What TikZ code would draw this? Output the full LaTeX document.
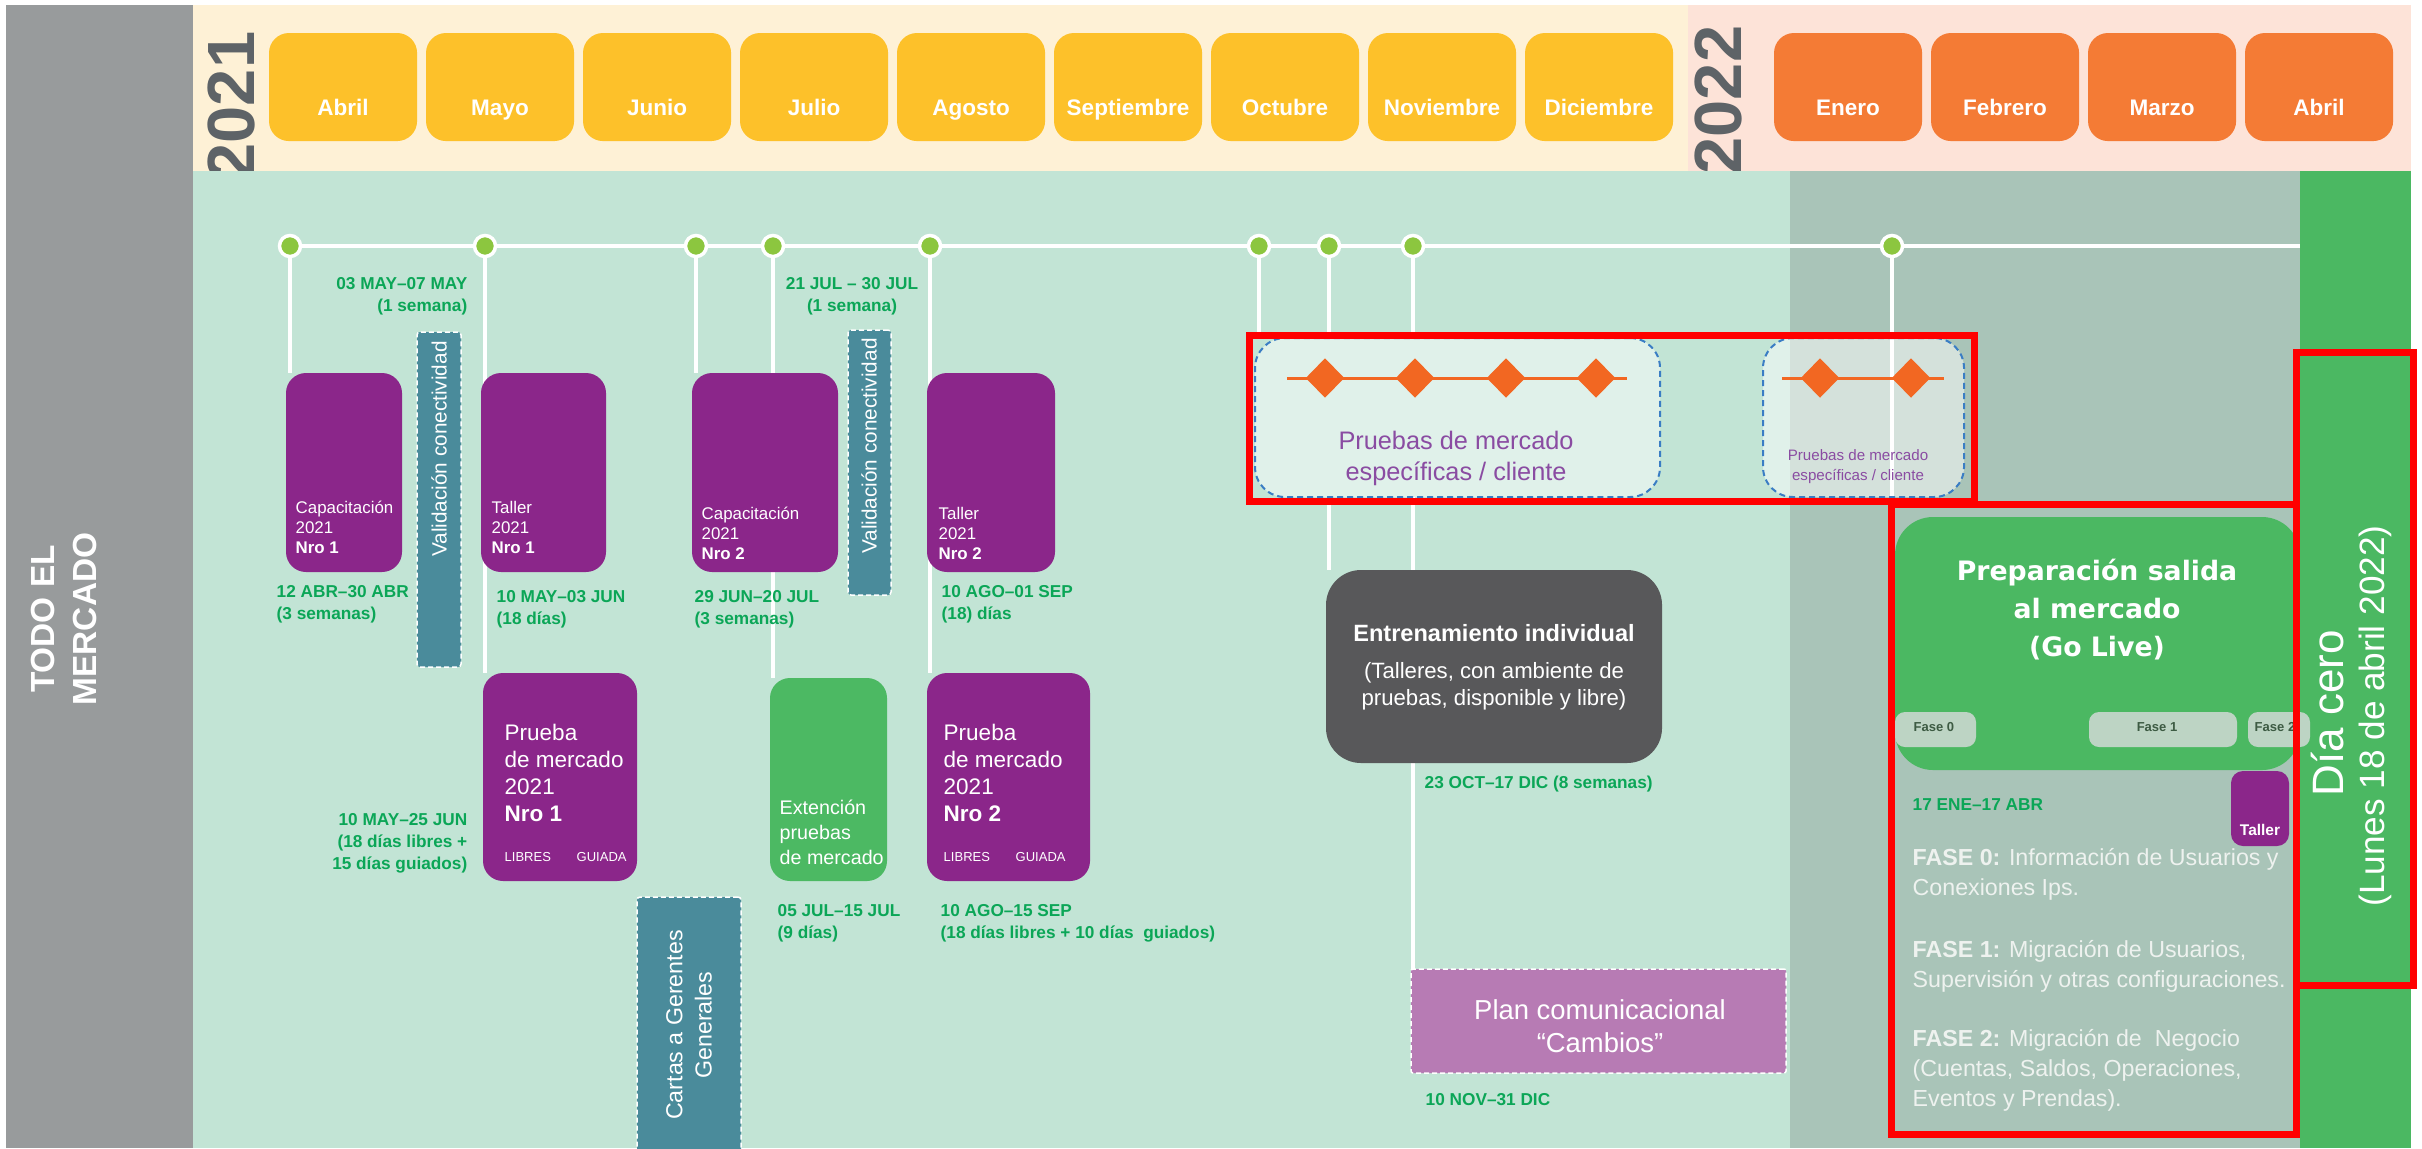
\documentclass[tikz,border=0pt]{standalone}
\usepackage{fontspec}
\setmainfont{Liberation Sans}
\newfontfamily\dvfont{DejaVu Sans}
\usetikzlibrary{shapes.geometric}
\newcommand\fsz[2]{\fontsize{#1pt}{#2pt}\selectfont}
\newcommand\bnode[6]{%
  \pgfmathsetmacro\bw{(#5-#3)*0.01}\pgfmathsetmacro\bh{(#6-#4)*0.01}%
  \node[#2, anchor=north west, minimum width=\bw cm, minimum height=\bh cm] (#1) at (#3,#4) {};}
\definecolor{cgray}{HTML}{989B9C}
\definecolor{ccream}{HTML}{FEF1D6}
\definecolor{cpink}{HTML}{FDE3D8}
\definecolor{cbody}{HTML}{C2E4D5}
\definecolor{cbody2}{HTML}{A9C4B8}
\definecolor{cgreencol}{HTML}{4BB862}
\definecolor{cyel}{HTML}{FDC12A}
\definecolor{corg}{HTML}{F47B35}
\definecolor{cyear}{HTML}{5E6367}
\definecolor{cdot}{HTML}{8CC63F}
\definecolor{cpur}{HTML}{8B268A}
\definecolor{cteal}{HTML}{4A8B9B}
\definecolor{cdate}{HTML}{0BA657}
\definecolor{cext}{HTML}{4CB963}
\definecolor{cdark}{HTML}{58585A}
\definecolor{cplan}{HTML}{B77BB4}
\definecolor{cdia}{HTML}{F26722}
\definecolor{cblue}{HTML}{3A7DC4}
\definecolor{cptxt}{HTML}{8A4CA2}
\definecolor{cfase}{HTML}{BDD4C4}
\definecolor{cfasetxt}{HTML}{3D5B43}
\definecolor{cfasew}{HTML}{EEF2EF}
\pgfdeclarelayer{back}\pgfdeclarelayer{lines}\pgfdeclarelayer{top}
\pgfsetlayers{back,lines,main,top}
\begin{document}
\begin{tikzpicture}[x=0.01cm,y=-0.01cm,
  box/.style={inner sep=0, outer sep=0, rounded corners=0.2cm},
  month/.style={box, rounded corners=0.2cm, minimum width=1.48cm, minimum height=1.08cm},
  mtext/.style={text=white, font=\bfseries\fsz{6.4}{7.5}, inner sep=0, anchor=base},
  year/.style={rotate=90, text=cyear, font=\bfseries\fsz{19}{22}, inner sep=0},
  pbox/.style={box, fill=cpur},
  gbox/.style={box, fill=cext},
  vbox/.style={box, rounded corners=0.03cm, fill=cteal, draw=white, line width=0.015cm, dash pattern=on 0.05cm off 0.03cm},
  dashbox/.style={box, rounded corners=0.3cm, fill=white, fill opacity=0.5, draw=cblue, draw opacity=1, line width=0.02cm, dash pattern=on 0.06cm off 0.04cm},
  dbox/.style={box, rounded corners=0.35cm, fill=cdark},
  planbox/.style={box, rounded corners=0.02cm, fill=cplan, draw=white, line width=0.015cm, dash pattern=on 0.05cm off 0.03cm},
  prepbox/.style={box, rounded corners=0.38cm, fill=cgreencol},
  fasebox/.style={box, rounded corners=0.1cm, fill=cfase},
  tbox/.style={box, rounded corners=0.12cm, fill=cpur},
  dot/.style={circle, fill=cdot, draw=white, line width=0.035cm, minimum size=0.21cm, inner sep=0},
  tl/.style={draw=white, line width=0.035cm},
  dline/.style={draw=cdia, line width=0.03cm},
  dia/.style={diamond, fill=cdia, inner sep=0, minimum width=0.39cm, minimum height=0.40cm},
  date/.style={text=cdate, font=\bfseries\fsz{4.9}{6.3}, inner sep=0, align=left},
  wtxt/.style={text=white, inner sep=0, align=left},
  redbox/.style={draw=red, line width=0.07cm}]
\useasboundingbox (0,0) rectangle (2422,1148);
\begin{pgfonlayer}{back}
  \fill[white] (0,0) rectangle (2422,1148);
  \fill[cgray] (6,5) rectangle (193,1148);
  \fill[ccream] (193,5) rectangle (1688,171);
  \fill[cpink] (1688,5) rectangle (2411,171);
  \node[year, anchor=base east] (y21) at (254,31) {2021};
  \node[year, anchor=base east] (y22) at (1741,25) {2022};
  \fill[cbody] (193,171) rectangle (1790,1148);
  \fill[cbody2] (1790,171) rectangle (2300,1148);
  \fill[cgreencol] (2300,171) rectangle (2411,1148);
\end{pgfonlayer}
% months
\foreach \m [count=\i from 0] in {Abril,Mayo,Junio,Julio,Agosto,Septiembre,Octubre,Noviembre,Diciembre}{
  \pgfmathsetmacro\mx{269+157*\i}\pgfmathsetmacro\mc{\mx+74}
  \node[month, fill=cyel, anchor=north west] (my\i) at (\mx,33) {};
  \node[mtext] (myt\i) at (\mc,115) {\m};
}
\foreach \m [count=\i from 0] in {Enero,Febrero,Marzo,Abril}{
  \pgfmathsetmacro\mx{1774+157*\i}\pgfmathsetmacro\mc{\mx+74}
  \node[month, fill=corg, anchor=north west] (mo\i) at (\mx,33) {};
  \node[mtext] (mot\i) at (\mc,115) {\m};
}
\node[rotate=90, text=white, font=\bfseries\fsz{9.5}{12}, align=center, inner sep=0] (todo) at (64,619) {TODO EL\\MERCADO};
% boxes
\bnode{cap1}{pbox}{286}{373}{402}{572}
\bnode{val1}{vbox}{417}{332}{461}{667}
\bnode{tal1}{pbox}{481}{373}{606}{572}
\bnode{cap2}{pbox}{692}{373}{838}{572}
\bnode{val2}{vbox}{848}{330}{891}{595}
\bnode{tal2}{pbox}{927}{373}{1055}{572}
\bnode{pr1}{pbox}{483}{673}{637}{881}
\bnode{ext}{gbox}{770}{678}{887}{881}
\bnode{pr2}{pbox}{927}{673}{1090}{881}
\bnode{cartas}{vbox}{637}{897}{741}{1170}
\bnode{pm1}{dashbox}{1255}{338}{1660}{497}
\bnode{pm2}{dashbox}{1763}{338}{1964}{497}
\bnode{entr}{dbox}{1326}{570}{1662}{763}
\bnode{plan}{planbox}{1411}{969}{1786}{1073}
\bnode{prep}{prepbox}{1895}{517}{2300}{770}
\bnode{fa0}{fasebox}{1895}{712}{1976}{747}
\bnode{fa1}{fasebox}{2089}{712}{2237}{747}
\bnode{fa2}{fasebox}{2248}{712}{2310}{747}
\bnode{tal3}{tbox}{2231}{771}{2289}{846}
% timeline dots
\foreach \x [count=\i] in {290,485,696,773,930,1259,1329,1413,1892}
  \node[dot] (d\i) at (\x,246) {};
\coordinate (tlend) at (2300,246);
\begin{pgfonlayer}{lines}
  \draw[tl, line width=0.045cm] (d1) -- (tlend);
  \draw[tl] (d1) -- (d1 |- cap1.north);
  \draw[tl] (d2) -- (d2 |- pr1.north);
  \draw[tl] (d3) -- (d3 |- cap2.north);
  \draw[tl] (d4) -- (d4 |- ext.north);
  \draw[tl] (d5) -- (d5 |- pr2.north);
  \draw[tl] (d6) -- (d6 |- pm1.north);
  \draw[tl] (d7) -- (d7 |- pm1.north) (d7 |- pm1.south) -- (d7 |- entr.north);
  \draw[tl] (d8) -- (d8 |- pm1.north) (d8 |- pm1.south) -- (d8 |- plan.north);
  \draw[tl] (d9) -- (d9 |- prep.north);
\end{pgfonlayer}
% diamonds
\coordinate (pla) at (1287,378); \coordinate (plb) at (1627,378);
\draw[dline] (pla) -- (plb);
\foreach \x [count=\i] in {1325,1415,1506,1596} \node[dia] (da\i) at (\x,378) {};
\coordinate (pqa) at (1782,378); \coordinate (pqb) at (1944,378);
\draw[dline] (pqa) -- (pqb);
\foreach \x [count=\i] in {1820,1911} \node[dia] (db\i) at (\x,378) {};
% texts in boxes
\node[wtxt, anchor=west, font=\fsz{4.8}{5.7}] (cap1t) at (295,527) {Capacitación\\2021\\\textbf{Nro 1}};
\node[wtxt, anchor=west, font=\fsz{4.8}{5.7}] (tal1t) at (491,527) {Taller\\2021\\\textbf{Nro 1}};
\node[wtxt, anchor=west, font=\fsz{4.8}{5.7}] (cap2t) at (701,533) {Capacitación\\2021\\\textbf{Nro 2}};
\node[wtxt, anchor=west, font=\fsz{4.8}{5.7}] (tal2t) at (938,533) {Taller\\2021\\\textbf{Nro 2}};
\node[wtxt, rotate=90, font=\fsz{5.9}{7}] (val1t) at (439,449) {Validación conectividad};
\node[wtxt, rotate=90, font=\fsz{5.9}{7}] (val2t) at (869,446) {Validación conectividad};
\node[wtxt, anchor=west, font=\fsz{6.4}{7.7}] (pr1t) at (504,773) {Prueba\\de mercado\\2021\\\textbf{Nro 1}};
\node[wtxt, anchor=west, font=\fsz{6.4}{7.7}] (pr2t) at (943,773) {Prueba\\de mercado\\2021\\\textbf{Nro 2}};
\node[wtxt, anchor=west, font=\fsz{3.7}{4.5}] (pr1l) at (504,857) {LIBRES};
\node[wtxt, anchor=west, font=\fsz{3.7}{4.5}] (pr1g) at (576,857) {GUIADA};
\node[wtxt, anchor=west, font=\fsz{3.7}{4.5}] (pr2l) at (943,857) {LIBRES};
\node[wtxt, anchor=west, font=\fsz{3.7}{4.5}] (pr2g) at (1015,857) {GUIADA};
\node[wtxt, anchor=west, font=\fsz{5.6}{7.1}] (extt) at (779,832) {Extención\\pruebas\\de mercado};
\node[wtxt, rotate=90, align=center, font=\fsz{6.6}{8.25}] (cartast) at (689,1025) {Cartas a Gerentes\\Generales};
\node[text=cptxt, inner sep=0, align=center, font=\fsz{7.2}{8.8}] (pm1t) at (1456,458) {Pruebas de mercado\\específicas / cliente};
\node[text=cptxt, inner sep=0, align=center, font=\fsz{4.3}{5.7}] (pm2t) at (1858,467) {Pruebas de mercado\\específicas / cliente};
\node[wtxt, align=center, font=\bfseries\fsz{6.7}{8}] (entrT) at (1494,633) {Entrenamiento individual};
\node[wtxt, align=center, font=\fsz{6.3}{7.7}] (entrS) at (1494,686) {(Talleres, con ambiente de\\pruebas, disponible y libre)};
\node[wtxt, align=center, font=\fsz{7.8}{9.4}] (plant) at (1600,1026) {Plan comunicacional\\“Cambios”};
\node[wtxt, align=center, font=\dvfont\bfseries\fsz{7.6}{10.8}] (prept) at (2097,610) {Preparación salida\\al mercado\\(Go Live)};
\node[inner sep=0, text=cfasetxt, font=\bfseries\fsz{3.7}{4.5}, anchor=west] (fa0t) at (1913,727) {Fase 0};
\node[inner sep=0, text=cfasetxt, font=\bfseries\fsz{3.7}{4.5}] (fa1t) at (2157,727) {Fase 1};
\node[inner sep=0, text=cfasetxt, font=\bfseries\fsz{3.7}{4.5}, anchor=west] (fa2t) at (2254,727) {Fase 2};
\node[wtxt, font=\bfseries\fsz{4.4}{5}] (tal3t) at (2260,830) {Taller};
\node[text=cfasew, inner sep=0, align=left, font=\fsz{6.6}{8.5}, anchor=west] (f0) at (1912,874.5) {\textbf{FASE 0:} Información de Usuarios y\\Conexiones Ips.};
\node[text=cfasew, inner sep=0, align=left, font=\fsz{6.6}{8.5}, anchor=west] (f1) at (1912,966) {\textbf{FASE 1:} Migración de Usuarios,\\Supervisión y otras configuraciones.};
\node[text=cfasew, inner sep=0, align=left, font=\fsz{6.6}{8.5}, anchor=west] (f2) at (1912,1070) {\textbf{FASE 2:} Migración de~ Negocio\\(Cuentas, Saldos, Operaciones,\\Eventos y Prendas).};
\node[wtxt, rotate=90, font=\fsz{12.5}{14}] (dia) at (2327,713) {Día cero};
\node[wtxt, rotate=90, font=\fsz{10}{12}] (lunes) at (2375,716) {(Lunes 18 de abril 2022)};
% dates
\node[date, anchor=west] (dt1) at (276,604) {12 ABR–30 ABR\\(3 semanas)};
\node[date, anchor=east, align=right] (dt2) at (468,296) {03 MAY–07 MAY\\(1 semana)};
\node[date, anchor=west] (dt3) at (496,609) {10 MAY–03 JUN\\(18 días)};
\node[date, anchor=west] (dt4) at (694,609) {29 JUN–20 JUL\\(3 semanas)};
\node[date, align=center] (dt5) at (852,296) {21 JUL – 30 JUL\\(1 semana)};
\node[date, anchor=west] (dt6) at (941,604) {10 AGO–01 SEP\\(18) días};
\node[date, anchor=east, align=right] (dt7) at (468,843) {10 MAY–25 JUN\\(18 días libres +\\15 días guiados)};
\node[date, anchor=west] (dt8) at (777,923) {05 JUL–15 JUL\\(9 días)};
\node[date, anchor=west] (dt9) at (940,923) {10 AGO–15 SEP\\(18 días libres + 10 días~ guiados)};
\node[date, anchor=west] (dt10) at (1424,784) {23 OCT–17 DIC (8 semanas)};
\node[date, anchor=west] (dt11) at (1425,1100) {10 NOV–31 DIC};
\node[date, anchor=west] (dt12) at (1912,805) {17 ENE–17 ABR};
% red highlight frames
\begin{pgfonlayer}{top}
  \draw[redbox] (1249.5,335.5) rectangle (1974.5,501.5);
  \draw[redbox] (1891.5,504.5) rectangle (2296.5,1134.5);
  \draw[redbox] (2296.5,352.5) rectangle (2413.5,985.5);
\end{pgfonlayer}
\end{tikzpicture}
\end{document}
